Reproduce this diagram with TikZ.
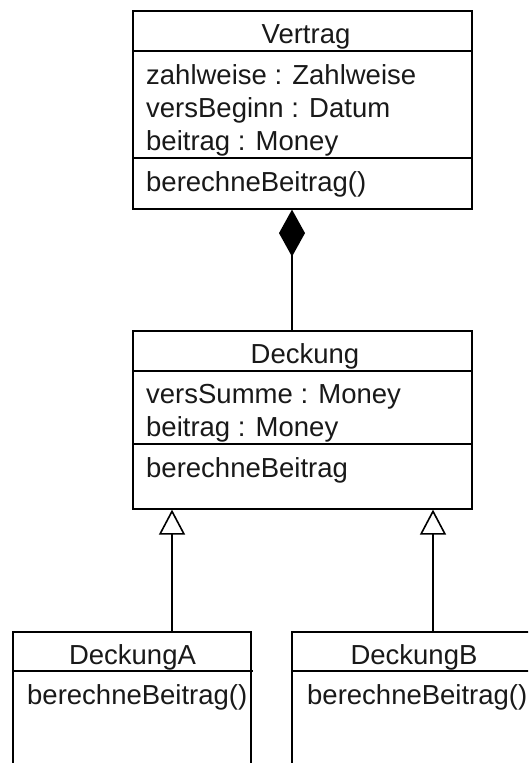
\documentclass[tikz,border=0pt]{standalone}
\usepackage{fontspec}
\setmainfont{Liberation Sans}
\usetikzlibrary{arrows.meta}
\tikzset{
  umlbox/.style={draw=black, line width=1.6pt, inner sep=0pt, anchor=north west, fill=none},
  txt/.style={inner sep=0pt, anchor=base west, font=\fontsize{27.5}{33}\selectfont, text=black!90},
  ttl/.style={inner sep=0pt, anchor=base, font=\fontsize{27.5}{33}\selectfont, text=black!90},
  sep/.style={line width=1.6pt},
  compo/.style={line width=1.6pt, -{Diamond[length=47pt,width=26pt,fill=black]}},
  gener/.style={line width=1.6pt, -{Triangle[open,length=25pt,width=26pt,fill=white]}}
}
\begin{document}
\begin{tikzpicture}[x=1pt,y=-1pt]
\useasboundingbox (0,0) rectangle (528,763);
\clip (0,0) rectangle (528,763);
\fill[white] (0,0) rectangle (528,763);

% Vertrag
\node[umlbox, minimum width=339pt, minimum height=198pt] (vertrag) at (132,10) {};
\draw[sep] (132,51) -- (473,51);
\draw[sep] (132,158) -- (473,158);
\node[ttl] (vt) at (306,43) {Vertrag};
\node[txt] (v1) at (146,84) {zahlweise : Zahlweise};
\node[txt] (v2) at (146,117) {versBeginn : Datum};
\node[txt] (v3) at (146,150) {beitrag : Money};
\node[txt] (v4) at (146,191) {berechneBeitrag()};

% Deckung
\node[umlbox, minimum width=339pt, minimum height=178pt] (deckung) at (132,330) {};
\draw[sep] (132,371) -- (473,371);
\draw[sep] (132,444) -- (473,444);
\node[ttl] (dt) at (305,363) {Deckung};
\node[txt] (d1) at (146,403) {versSumme : Money};
\node[txt] (d2) at (146,436) {beitrag : Money};
\node[txt] (d3) at (146,477) {berechneBeitrag};

% DeckungA
\node[umlbox, minimum width=238pt, minimum height=200pt] (da) at (12,631) {};
\draw[sep] (12,671) -- (253,671);
\node[ttl] (dat) at (132.5,664) {DeckungA};
\node[txt] (da1) at (27,704) {berechneBeitrag()};

% DeckungB
\node[umlbox, minimum width=242pt, minimum height=200pt] (db) at (291,631) {};
\draw[sep] (291,671) -- (536,671);
\node[ttl] (dbt) at (414,664) {DeckungB};
\node[txt] (db1) at (307,704) {berechneBeitrag()};

% connectors
\draw[compo] ([xshift=160pt]deckung.north west) -- ([xshift=160pt]vertrag.south west);
\draw[gener] ([xshift=160pt]da.north west) -- ([xshift=40pt]deckung.south west);
\draw[gener] ([xshift=142pt]db.north west) -- ([xshift=301pt]deckung.south west);
\end{tikzpicture}
\end{document}
